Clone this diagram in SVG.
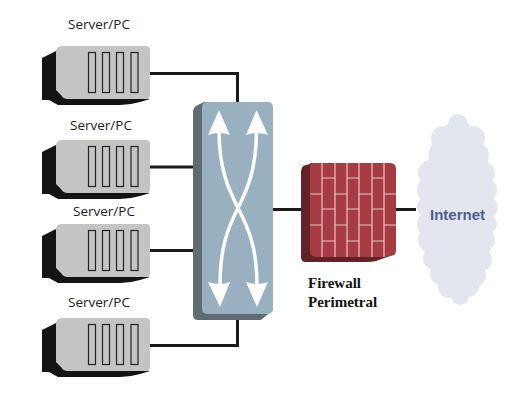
<svg xmlns="http://www.w3.org/2000/svg" width="510" height="420" viewBox="0 0 510 420">
<style>
.lbl{font-family:"Open Sans","Noto Sans",sans-serif;font-size:13.5px;fill:#222}
.fw{font-family:"Liberation Serif",serif;font-size:15px;font-weight:bold;fill:#111}
.net{font-family:"Liberation Sans",sans-serif;font-size:15px;font-weight:bold;fill:#48608e}
.wire{fill:none;stroke:#1a1a1a;stroke-width:3}
.slot{fill:#c4c4c2;stroke:#222;stroke-width:1.2}
.mortar{fill:none;stroke:#ecc6c6;stroke-width:1.2}
.cross{fill:none;stroke:#fff;stroke-width:3.500}
</style>
<defs>
<g id="srv">
<path d="M42 59 L60 50 L60 46 L80 90 L150 99 L140 102 Q130 105 120 105 L58 105 L49 100 L42 100 Z" fill="#141414"/>
<path d="M42 58 L62 48 L70 60 L70 100 L42 100 Z" fill="#141414"/>
<path d="M62 46 H146 Q150 46 150 50 V95 Q150 99 146 99 H68 Q63 99 61 95 L56 90 V52 Q56 46 62 46 Z" fill="#c4c4c2"/>
<rect class="slot" x="88.500" y="52.500" width="7" height="40"/>
<rect class="slot" x="102.500" y="52.500" width="7" height="40"/>
<rect class="slot" x="116.500" y="52.500" width="7" height="40"/>
<rect class="slot" x="131" y="52.500" width="7" height="40"/>
</g>
</defs>
<rect width="510" height="420" fill="#fff"/>
<g id="connectors">
<path class="wire" d="M150 73.500 H237.500 V103"/>
<path class="wire" d="M150 167 H198"/>
<path class="wire" d="M150 250.500 H198"/>
<path class="wire" d="M150 345.500 H237.500 V318"/>
<path class="wire" d="M272 209.500 H303"/>
<path class="wire" d="M395 209.500 H416"/>
</g>
<g id="server1"><use href="#srv"/><text class="lbl" x="68" y="29">Server/PC</text></g>
<g id="server2"><use href="#srv" y="94"/><text class="lbl" x="70" y="130">Server/PC</text></g>
<g id="server3"><use href="#srv" y="178"/><text class="lbl" x="73" y="216">Server/PC</text></g>
<g id="server4"><use href="#srv" y="272"/><text class="lbl" x="68" y="307">Server/PC</text></g>
<g id="switch">
<path d="M193 112 Q193 108 196 106 L204 102 H240 V316 L262 319 Q262 320 260 320 H198 Q193 320 193 315 Z" fill="#5f6d72"/>
<path d="M273 306 V310 L262 319 L205 319 L205 300 Z" fill="#5f6d72"/>
<rect x="202" y="102" width="71" height="212" rx="5" fill="#98b0bf"/>
<path class="cross" d="M219 130 C219 170 229 190 238 208 S257 245 257 285"/>
<path class="cross" d="M256.500 130 C256.500 170 247 190 238 208 S220 245 220 285"/>
<path d="M219 110 L230 135 Q219 131 208 135 Z" fill="#fff"/>
<path d="M256.500 110 L268 135 Q256.500 131 246 135 Z" fill="#fff"/>
<path d="M220 307 L208 282 Q220 286 230 282 Z" fill="#fff"/>
<path d="M257 307 L246 282 Q257 286 268 282 Z" fill="#fff"/>
</g>
<g id="firewall">
<path d="M301 172 Q301 166 306 165 L314 163 H340 V240 L390 256 L376 261 Q372 262 366 262 H306 Q301 262 301 257 Z" fill="#632227"/>
<path d="M310 163 H390 Q396 163 396 169 V251 Q396 255 391 256 L382 257 H316 Q310 257 310 251 Z" fill="#a63b42"/>
<path class="mortar" d="M322 163 V257 M335 163 V257 M347 163 V257 M359 163 V257 M372 163 V257 M384 163 V257"/>
<path class="mortar" d="M310 194 H322 M310 225 H322 M322 178 H335 M322 209 H335 M322 241 H335 M335 194 H347 M335 225 H347 M347 178 H359 M347 209 H359 M347 241 H359 M359 194 H372 M359 225 H372 M372 178 H384 M372 209 H384 M372 241 H384 M384 194 H396 M384 225 H396"/>
<text class="fw" x="308" y="288">Firewall</text>
<text class="fw" x="308" y="307">Perimetral</text>
</g>
<g id="internet">
<g fill="#e3e6ee">
<ellipse cx="458" cy="210" rx="36" ry="90"/>
<circle cx="458" cy="124" r="10"/>
<circle cx="443" cy="138" r="12"/><circle cx="473" cy="138" r="12"/>
<circle cx="441" cy="153" r="12"/><circle cx="477" cy="155" r="12"/>
<circle cx="431" cy="173" r="13"/><circle cx="484" cy="173" r="11"/>
<circle cx="430" cy="190" r="13"/><circle cx="486" cy="190" r="11"/>
<circle cx="428" cy="207" r="11"/><circle cx="488" cy="207" r="10"/>
<circle cx="429" cy="224" r="12"/><circle cx="487" cy="224" r="10"/>
<circle cx="431" cy="240" r="13"/><circle cx="485" cy="240" r="10"/>
<circle cx="435" cy="258" r="12"/><circle cx="481" cy="260" r="11"/>
<circle cx="441" cy="274" r="11"/><circle cx="475" cy="276" r="11"/>
<circle cx="449" cy="287" r="11"/><circle cx="468" cy="286" r="11"/>
<circle cx="460" cy="296" r="9"/>
</g>
<text class="net" x="430" y="220">Internet</text>
</g>
</svg>
